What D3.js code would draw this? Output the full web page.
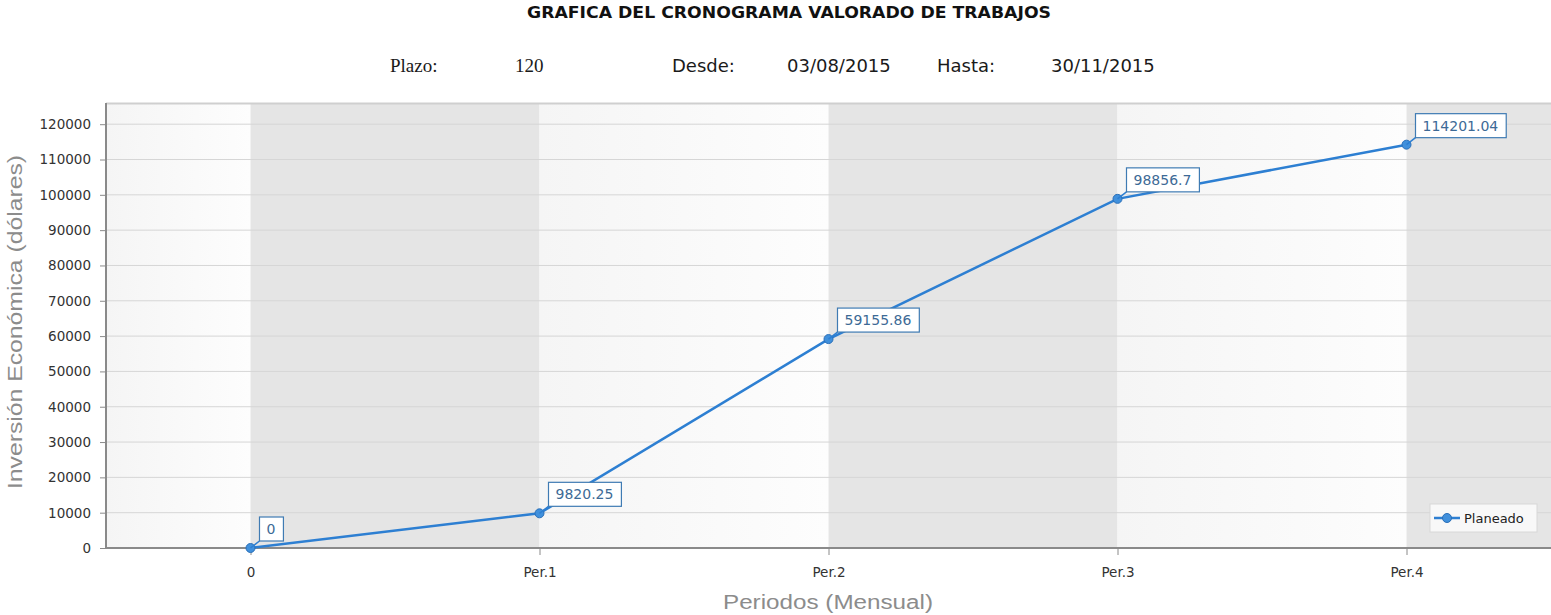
<!DOCTYPE html>
<html>
<head>
<meta charset="utf-8">
<script src="https://cdn.jsdelivr.net/npm/d3@7"></script>
<style>
  body { margin: 0; background: #fff; }
  svg { display: block; }
</style>
</head>
<body>
<div id="chart"></div>
<script>
// datos de la grafica
var categories = ["0", "Per.1", "Per.2", "Per.3", "Per.4"];
var planeado = [0, 9820.25, 59155.86, 98856.7, 114201.04];
var yTicks = [0, 10000, 20000, 30000, 40000, 50000, 60000, 70000, 80000, 90000, 100000, 110000, 120000];
var header = [
    {text: "Plazo:", x: 390, serif: true},
    {text: "120", x: 515, serif: true},
    {text: "Desde:", x: 672},
    {text: "03/08/2015", x: 787},
    {text: "Hasta:", x: 937},
    {text: "30/11/2015", x: 1051}
];

var W = 1551, H = 615;
var plot = {left: 106, right: 1551, top: 103, bottom: 548};
var sans = "DejaVu Sans, Verdana, sans-serif";

var svg = d3.select("#chart").append("svg")
    .attr("width", W)
    .attr("height", H);

var x = d3.scaleLinear().domain([-0.5, categories.length - 0.5]).range([plot.left, plot.right]);
var y = d3.scaleLinear().domain([0, 126000]).range([plot.bottom, plot.top]);

var defs = svg.append("defs");
var grad = defs.append("linearGradient").attr("id", "lightBand").attr("x1", "0").attr("x2", "1").attr("y1", "0").attr("y2", "0");
grad.append("stop").attr("offset", "0").attr("stop-color", "#f5f5f5");
grad.append("stop").attr("offset", "1").attr("stop-color", "#fdfdfd");

// titulo
svg.append("text")
    .attr("x", 527).attr("y", 18)
    .attr("textLength", 524).attr("lengthAdjust", "spacingAndGlyphs")
    .style("font-family", sans).style("font-weight", "bold").style("font-size", "15px")
    .style("fill", "#111")
    .text("GRAFICA DEL CRONOGRAMA VALORADO DE TRABAJOS");

svg.selectAll("text.hdr").data(header).enter().append("text")
    .attr("class", "hdr")
    .attr("x", function (d) { return d.x; })
    .attr("y", 72)
    .style("font-family", function (d) { return d.serif ? "Liberation Serif, Times New Roman, serif" : sans; })
    .style("font-size", function (d) { return d.serif ? "19px" : "18px"; })
    .style("fill", "#1a1a1a")
    .text(function (d) { return d.text; });

// bandas alternas
var bands = [{from: -0.5, to: 0, dark: false}];
categories.forEach(function (c, i) {
    bands.push({from: i, to: Math.min(i + 1, categories.length - 0.5), dark: i % 2 === 0});
});
svg.append("g").selectAll("rect").data(bands).enter().append("rect")
    .attr("x", function (d) { return x(d.from); })
    .attr("y", plot.top)
    .attr("width", function (d) { return x(d.to) - x(d.from); })
    .attr("height", plot.bottom - plot.top)
    .style("fill", function (d) { return d.dark ? "#e5e5e5" : "url(#lightBand)"; });

// lineas de rejilla
svg.append("g").selectAll("line").data(yTicks.slice(1)).enter().append("line")
    .attr("x1", plot.left).attr("x2", plot.right)
    .attr("y1", function (d) { return y(d); })
    .attr("y2", function (d) { return y(d); })
    .style("stroke", "#d6d6d6").style("stroke-width", 1);

svg.append("line")
    .attr("x1", plot.left).attr("x2", plot.right)
    .attr("y1", plot.top + 0.5).attr("y2", plot.top + 0.5)
    .style("stroke", "#cfcfcf").style("stroke-width", 2);

// eje y
var yMinor = d3.range(0, 126001, 2000);
var yAxisG = svg.append("g").attr("transform", "translate(" + plot.left + ",0)");
yAxisG.call(d3.axisLeft(y).tickValues(yMinor).tickSize(3).tickFormat(""));
yAxisG.call(d3.axisLeft(y).tickValues(yTicks).tickSize(6).tickPadding(9).tickFormat(d3.format("d")));
yAxisG.selectAll(".domain").remove();
yAxisG.selectAll("line").style("stroke", "#8a8a8a");
yAxisG.selectAll("text").style("font-family", sans).style("font-size", "13.5px").style("fill", "#333");
svg.append("line")
    .attr("x1", plot.left).attr("x2", plot.left)
    .attr("y1", plot.top).attr("y2", plot.bottom + 1)
    .style("stroke", "#8a8a8a").style("stroke-width", 2);

// eje x
var xMinor = d3.range(-2, 23).map(function (k) { return k / 5; });
var xAxisG = svg.append("g").attr("transform", "translate(0," + plot.bottom + ")");
xAxisG.call(d3.axisBottom(x).tickValues(xMinor).tickSize(4).tickFormat(""));
xAxisG.call(d3.axisBottom(x).tickValues(d3.range(categories.length)).tickSize(7).tickPadding(12)
    .tickFormat(function (d) { return categories[d]; }));
xAxisG.selectAll(".domain").remove();
xAxisG.selectAll("line").style("stroke", "#8a8a8a");
xAxisG.selectAll("text").style("font-family", sans).style("font-size", "13.5px").style("fill", "#333");
svg.append("line")
    .attr("x1", plot.left - 1).attr("x2", plot.right)
    .attr("y1", plot.bottom).attr("y2", plot.bottom)
    .style("stroke", "#8a8a8a").style("stroke-width", 2);

// titulos de los ejes
svg.append("text")
    .attr("transform", "translate(22,322) rotate(-90)")
    .attr("text-anchor", "middle")
    .attr("textLength", 334).attr("lengthAdjust", "spacingAndGlyphs")
    .style("font-family", "Liberation Sans, Arial, sans-serif").style("font-size", "20px")
    .style("fill", "#8c8c8c")
    .text("Inversión Económica (dólares)");

svg.append("text")
    .attr("x", 828).attr("y", 609)
    .attr("text-anchor", "middle")
    .attr("textLength", 210).attr("lengthAdjust", "spacingAndGlyphs")
    .style("font-family", "Liberation Sans, Arial, sans-serif").style("font-size", "20px")
    .style("fill", "#8c8c8c")
    .text("Periodos (Mensual)");

// serie
var pts = planeado.map(function (v, i) { return {i: i, v: v}; });
var line = d3.line()
    .x(function (d) { return x(d.i); })
    .y(function (d) { return y(d.v); });

svg.append("path")
    .attr("d", line(pts))
    .style("fill", "none").style("stroke", "#2d7fd2").style("stroke-width", 2.5);

svg.append("g").selectAll("circle").data(pts).enter().append("circle")
    .attr("cx", function (d) { return x(d.i); })
    .attr("cy", function (d) { return y(d.v); })
    .attr("r", 4.5)
    .style("fill", "#4090dc").style("stroke", "#2a6fb8").style("stroke-width", 1);

// etiquetas de valores
var lbl = svg.append("g").selectAll("g").data(pts).enter().append("g")
    .attr("transform", function (d) { return "translate(" + (x(d.i) + 9) + "," + (y(d.v) - 7) + ")"; });

lbl.append("line")
    .attr("x1", -9).attr("y1", 7).attr("x2", 0).attr("y2", 0)
    .style("stroke", "#2d7fd2").style("stroke-width", 1.5);

lbl.each(function (d) {
    var g = d3.select(this);
    var rect = g.append("rect");
    var t = g.append("text")
        .attr("x", 7).attr("y", -7)
        .style("font-family", sans).style("font-size", "14px")
        .style("fill", "#3d6a96")
        .text(d3.format(".10~f")(d.v));
    var w = t.node().getComputedTextLength() + 15;
    rect.attr("x", 0).attr("y", -24).attr("width", w).attr("height", 24)
        .style("fill", "#fff").style("stroke", "#3f7bb3").style("stroke-width", 1.2);
});

// leyenda
var leg = svg.append("g").attr("transform", "translate(1430,504)");
leg.append("rect").attr("width", 107).attr("height", 28)
    .style("fill", "#f8f8f8").style("stroke", "#d8d8d8");
leg.append("line").attr("x1", 4).attr("x2", 30).attr("y1", 14).attr("y2", 14)
    .style("stroke", "#2d7fd2").style("stroke-width", 2.5);
leg.append("circle").attr("cx", 17).attr("cy", 14).attr("r", 4.5)
    .style("fill", "#4090dc").style("stroke", "#2a6fb8");
leg.append("text").attr("x", 34).attr("y", 19)
    .style("font-family", sans).style("font-size", "13px").style("fill", "#222")
    .text("Planeado");
</script>
</body>
</html>
